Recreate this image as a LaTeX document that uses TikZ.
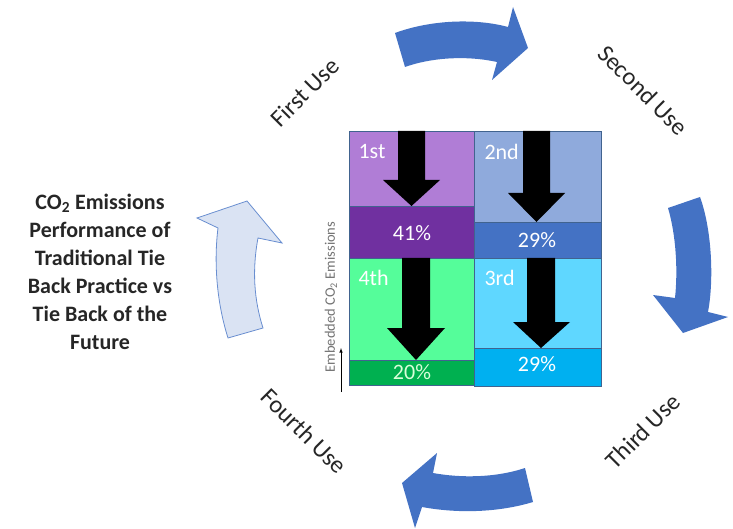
\documentclass[tikz,border=0pt]{standalone}
\usepackage{fontspec}
\setmainfont{Carlito}
\definecolor{useblue}{HTML}{4472C4}
\definecolor{paleblue}{HTML}{DAE3F3}
\definecolor{gridline}{HTML}{41638F}
\definecolor{firsttop}{HTML}{B07DD6}
\definecolor{firstbot}{HTML}{7030A0}
\definecolor{secondtop}{HTML}{8FAADC}
\definecolor{secondbot}{HTML}{4472C4}
\definecolor{thirdtop}{HTML}{5FD7FF}
\definecolor{thirdbot}{HTML}{00B0F0}
\definecolor{fourthtop}{HTML}{55FD9A}
\definecolor{fourthbot}{HTML}{00B050}
\tikzset{
  cell/.style={draw=gridline, line width=0.8pt},
  usetext/.style={font=\fontsize{24.5}{28}\selectfont, text=black!85},
  rank/.style={anchor=west, text=white, font=\fontsize{22}{26}\selectfont},
  pct/.style={text=white, font=\fontsize{22}{26}\selectfont},
  cyclearrow/.style={fill=useblue}
}
\begin{document}
\begin{tikzpicture}[x=1pt,y=1pt]
\useasboundingbox (0,0) rectangle (733,528);

\filldraw[cell, fill=firsttop] (349,397) rectangle (474,322);
\filldraw[cell, fill=firstbot] (349,322) rectangle (474,270);
\filldraw[cell, fill=fourthtop] (349,270) rectangle (474,168);
\filldraw[cell, fill=fourthbot] (349,168) rectangle (474,143);
\filldraw[cell, fill=secondtop] (474,397) rectangle (601,306);
\filldraw[cell, fill=secondbot] (474,306) rectangle (601,270);
\filldraw[cell, fill=thirdtop] (474,270) rectangle (601,180);
\filldraw[cell, fill=thirdbot] (474,180) rectangle (601,142);

\fill (398,397) -- (425,397) -- (425,348) -- (440,348) -- (411.5,322) -- (383,348) -- (398,348) -- cycle;
\fill (523,397) -- (550,397) -- (550,335) -- (565,335) -- (536.5,306) -- (508,335) -- (523,335) -- cycle;
\fill (402,270) -- (430,270) -- (430,200) -- (445,200) -- (416,168) -- (387,200) -- (402,200) -- cycle;
\fill (527,270) -- (555,270) -- (555,206) -- (570,206) -- (541,180) -- (513,206) -- (527,206) -- cycle;

\node[rank] (r1) at (355,376) {1st};
\node[rank] (r2) at (481,376) {2nd};
\node[rank] (r4) at (355,250) {4th};
\node[rank] (r3) at (481,250) {3rd};
\node[pct] (p1) at (412,295) {41\%};
\node[pct] (p2) at (537,288) {29\%};
\node[pct, text=green!15!white] (p4) at (412,156) {20\%};
\node[pct] (p3) at (537,164) {29\%};

\node[rotate=90, text=black!55, font=\fontsize{14.5}{16}\selectfont] (axis) at (331,231) {Embedded CO\textsubscript{2} Emissions};
\coordinate (axbot) at (341,136);
\coordinate (axtop) at (341,180);
\draw[->, >=latex, line width=0.6pt] (axbot) -- (axtop);

\fill[cyclearrow] (395,495) .. controls (430,508) and (475,510) .. (508,501) -- (513,521) -- (528,480) -- (492,448) -- (497,466) .. controls (465,473) and (430,470) .. (405,461) -- cycle;
\fill[cyclearrow] (668,320) -- (700,331) .. controls (712,298) and (714,248) .. (708,216) -- (728,211) -- (683,195) -- (653,233) -- (675,230) .. controls (678,258) and (676,293) .. (668,320) -- cycle;
\fill[cyclearrow] (525,60) .. controls (495,50) and (460,50) .. (433,55) -- (437,75) -- (402,45) -- (415,0) -- (422,21) .. controls (460,14) and (500,16) .. (533,26) -- cycle;
\filldraw[fill=paleblue, draw=useblue!80, line width=0.8pt] (228,190) .. controls (216,228) and (214,268) .. (218,300) -- (197,310) -- (247,327) -- (282,285) -- (258,290) .. controls (252,258) and (254,228) .. (263,200) -- cycle;

\node[usetext, rotate=45] (first) at (305,436) {First Use};
\node[usetext, rotate=-45] (second) at (643,438) {Second Use};
\node[usetext, rotate=45] (third) at (643,97) {Third Use};
\node[usetext, rotate=-45] (fourth) at (304,97) {Fourth Use};

\node[align=center, font=\bfseries\fontsize{22}{28}\selectfont, text=black!85] (title) at (100,256) {CO\textsubscript{2} Emissions\\Performance of\\Traditional Tie\\Back Practice vs\\Tie Back of the\\Future};
\end{tikzpicture}
\end{document}
